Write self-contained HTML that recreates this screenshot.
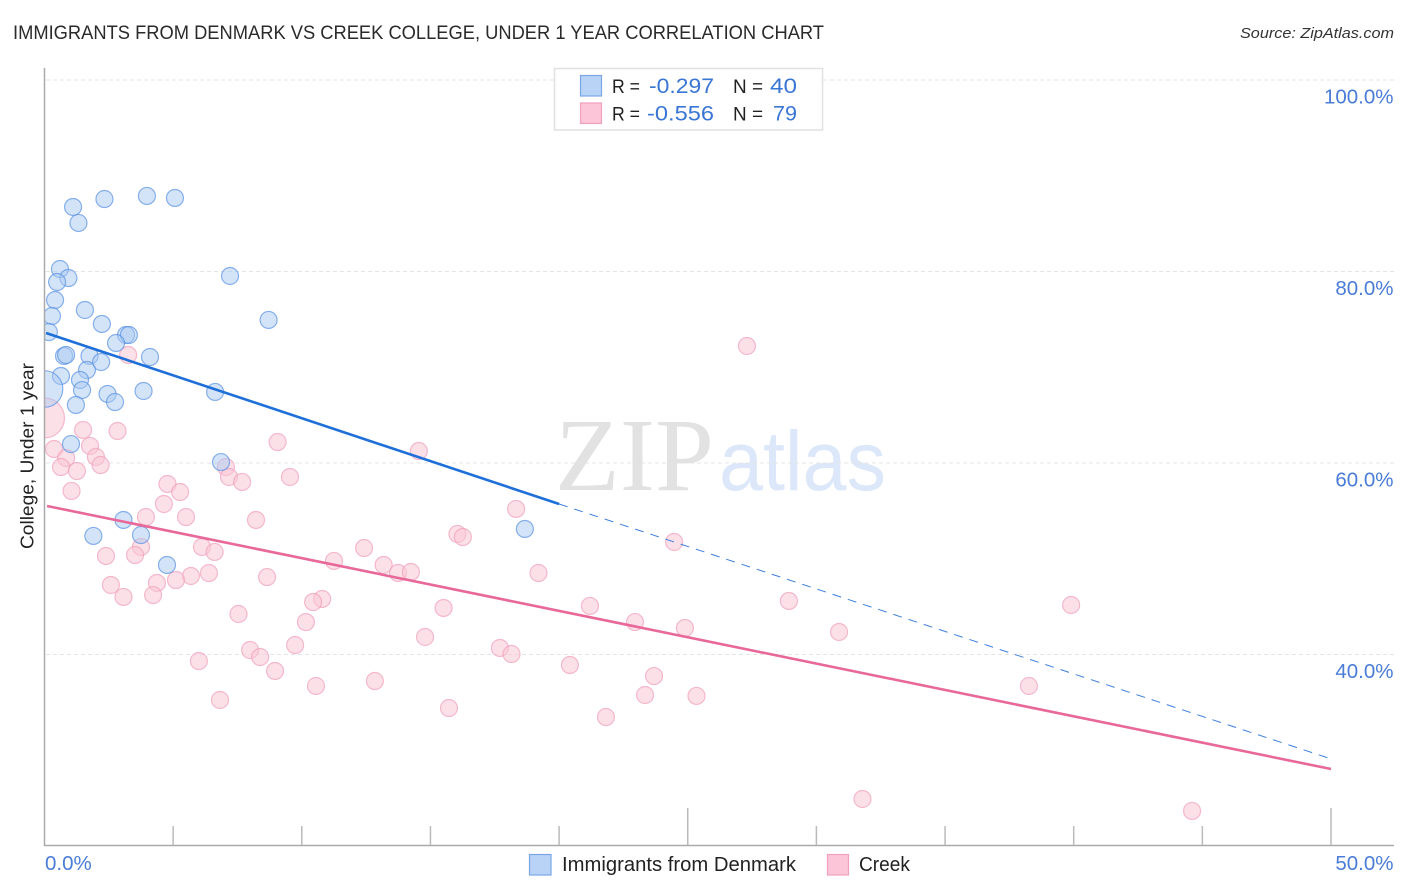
<!DOCTYPE html>
<html lang="en">
<head>
<meta charset="utf-8">
<title>Immigrants from Denmark vs Creek College, Under 1 Year Correlation Chart</title>
<style>
html,body{margin:0;padding:0;background:#fff;width:1406px;height:892px;overflow:hidden}
svg{display:block;font-family:"Liberation Sans",sans-serif}
</style>
</head>
<body>
<svg id="chart" xmlns="http://www.w3.org/2000/svg" width="1406" height="892" viewBox="0 0 1406 892">
  <rect x="0" y="0" width="1406" height="892" fill="#ffffff"/>
  <text x="13" y="39" font-size="19" fill="#2a2a2a" textLength="811" lengthAdjust="spacingAndGlyphs">IMMIGRANTS FROM DENMARK VS CREEK COLLEGE, UNDER 1 YEAR CORRELATION CHART</text>
  <text x="1394" y="38" font-size="15" font-style="italic" fill="#333" text-anchor="end" textLength="154" lengthAdjust="spacingAndGlyphs">Source: ZipAtlas.com</text>

  <g>
    <text x="555" y="490" font-family="'Liberation Serif',serif" font-size="104" fill="#e2e2e2" textLength="159" lengthAdjust="spacingAndGlyphs">ZIP</text>
    <text x="719" y="490" font-size="84" fill="#dce8f9" textLength="167" lengthAdjust="spacingAndGlyphs">atlas</text>
  </g>

  <g id="grid"></g>
  <g id="points"></g>
  <rect x="0" y="60" width="44.5" height="786" fill="#ffffff"/>
  <g id="axes"></g>
  <g id="trends"></g>
  <g id="labels"></g>

  <text transform="translate(33.5,549) rotate(-90)" font-size="18.5" fill="#222" textLength="186" lengthAdjust="spacingAndGlyphs">College, Under 1 year</text>

  <g>
    <rect x="554.5" y="68.5" width="268" height="61.5" fill="#fff" stroke="#e0e0e0" stroke-width="1.5"/>
    <rect x="580.5" y="75.5" width="21" height="20.5" fill="#b8d3f5" stroke="#7aa6e6" stroke-width="1.2"/>
    <rect x="580.5" y="103" width="21" height="20.5" fill="#fcc5d8" stroke="#f0a0bc" stroke-width="1.2"/>
    <text x="612" y="93" font-size="19.5" fill="#222" textLength="28" lengthAdjust="spacingAndGlyphs">R =</text>
    <text x="649" y="93" font-size="21" fill="#3a76d4" textLength="65" lengthAdjust="spacingAndGlyphs">-0.297</text>
    <text x="733" y="93" font-size="19.5" fill="#222" textLength="30" lengthAdjust="spacingAndGlyphs">N =</text>
    <text x="770" y="93" font-size="21" fill="#3a76d4" textLength="27" lengthAdjust="spacingAndGlyphs">40</text>
    <text x="612" y="120.5" font-size="19.5" fill="#222" textLength="28" lengthAdjust="spacingAndGlyphs">R =</text>
    <text x="647" y="120.5" font-size="21" fill="#3a76d4" textLength="67" lengthAdjust="spacingAndGlyphs">-0.556</text>
    <text x="733" y="120.5" font-size="19.5" fill="#222" textLength="30" lengthAdjust="spacingAndGlyphs">N =</text>
    <text x="773" y="120.5" font-size="21" fill="#3a76d4" textLength="24" lengthAdjust="spacingAndGlyphs">79</text>
  </g>

  <g>
    <rect x="529.5" y="854.5" width="21.5" height="20.5" fill="#b8d3f5" stroke="#7aa6e6" stroke-width="1.2"/>
    <text x="562" y="871" font-size="20" fill="#222" textLength="234" lengthAdjust="spacingAndGlyphs">Immigrants from Denmark</text>
    <rect x="827.5" y="854.5" width="21" height="20.5" fill="#fcc5d8" stroke="#f0a0bc" stroke-width="1.2"/>
    <text x="859" y="871" font-size="20" fill="#222" textLength="51" lengthAdjust="spacingAndGlyphs">Creek</text>
  </g>
</svg>
<script>
// Value arrays (x = Immigrants from Denmark %, y = College, Under 1 year %)
const blueX = [1.11,2.33,3.98,5.07,1.32,0.60,0.93,0.49,7.21,0.41,0.29,8.71,1.57,2.23,0.17,3.17,3.28,2.78,4.10,0.76,0.84,1.75,2.20,1.65,0.64,1.38,1.46,2.45,3.85,6.63,1.22,2.74,0,1.03,6.86,3.07,1.90,3.75,4.76,18.67];
const blueY = [86.74,87.57,87.89,87.68,85.07,80.26,79.32,78.90,79.53,77.02,75.35,74.94,75.98,74.52,73.68,73.37,73.37,72.53,71.07,71.18,71.28,71.18,70.55,69.71,69.09,68.67,67.62,67.21,67.52,67.42,66.06,66.37,67.73,61.98,60.10,54.05,52.38,52.48,49.35,53.11];
const blueSize = [1,1,1,1,1,1,1,1,1,1,1,1,1,1,1,1,1,1,1,1,1,1,1,1,1,1,1,1,1,1,1,1,2.15,1,1,1,1,1,1,1];

const pinkX = [0,3.25,27.30,1.50,2.84,1.77,0.37,9.06,14.55,0.84,2.00,0.64,2.18,1.26,7.05,7.17,7.68,9.54,1.05,4.78,5.27,4.64,18.33,3.94,5.50,8.22,16.05,16.26,24.47,3.75,6.12,6.61,3.52,2.39,12.42,11.25,13.18,13.74,14.24,19.20,8.65,6.39,5.69,5.11,4.37,2.58,3.07,4.22,10.79,10.44,15.51,21.20,28.93,39.90,7.54,10.16,22.95,24.89,30.88,14.79,9.74,7.99,8.38,17.70,18.15,6.00,20.42,8.96,23.69,12.84,10.55,38.26,23.34,25.34,6.82,15.72,21.82,31.79,44.60];
const pinkY = [64.70,71.28,72.22,63.45,63.34,61.78,61.46,62.19,61.25,60.52,60.63,59.58,59.79,59.16,59.58,58.54,58.02,58.54,57.08,57.81,56.97,55.72,55.20,54.36,54.36,54.05,52.59,52.27,51.75,51.23,51.23,50.71,50.39,50.29,51.12,49.77,49.35,48.51,48.62,48.51,48.09,48.51,48.20,47.78,47.47,47.26,46.01,46.21,45.80,45.48,44.86,45.07,45.59,45.17,44.23,43.39,43.39,42.77,42.35,41.83,40.99,40.47,39.74,40.68,40.05,39.32,38.90,38.28,37.75,37.23,36.71,36.71,35.77,35.67,35.25,34.41,33.47,24.91,23.66];
const pinkSize = [2.35,1,1,1,1,1,1,1,1,1,1,1,1,1,1,1,1,1,1,1,1,1,1,1,1,1,1,1,1,1,1,1,1,1,1,1,1,1,1,1,1,1,1,1,1,1,1,1,1,1,1,1,1,1,1,1,1,1,1,1,1,1,1,1,1,1,1,1,1,1,1,1,1,1,1,1,1,1,1];

const blueTrendX = [0.06,20.0,49.9];
const blueTrendY = [73.58,55.72,29.19];
const pinkTrendX = [0.1,50.0];
const pinkTrendY = [55.51,28.04];

const yTicks = [100,80,60,40];
const yTickLabels = ['100.0%','80.0%','60.0%','40.0%'];
const xTicks = [5,10,15,20,25,30,35,40,45,50];
const xMajorTicks = [25,50];
const xEndTicks = [0,50];
const xEndLabels = ['0.0%','50.0%'];

const svgNS = 'http://www.w3.org/2000/svg';
function xScale(v){ return 44.5 + v * 25.73; }
function yScale(v){ return 654.5 - (v - 40) * 9.575; }
function make(tag, attrs, parent){
  const el = document.createElementNS(svgNS, tag);
  for (const k in attrs) el.setAttribute(k, attrs[k]);
  parent.appendChild(el);
  return el;
}

const gridG = document.getElementById('grid');
const axesG = document.getElementById('axes');
const pointsG = document.getElementById('points');
const trendsG = document.getElementById('trends');
const labelsG = document.getElementById('labels');

yTicks.forEach(function(t){
  const el = make('line', {x1:46, x2:1394, y1:yScale(t), y2:yScale(t), stroke:'#e4e4e4', 'stroke-width':1, 'stroke-dasharray':'4 3'}, gridG);
  
  
});

function drawPoints(xs, ys, sizes, fill, stroke, fillOpacity, name){
  xs.forEach(function(x, i){
    const c = make('circle', {cx:xScale(x), cy:yScale(ys[i]), r:8.5 * sizes[i], fill:fill, 'fill-opacity':fillOpacity, stroke:stroke, 'stroke-opacity':0.7, 'stroke-width':1.2}, pointsG);
    
    
  });
}
drawPoints(pinkX, pinkY, pinkSize, '#f9c6d6', '#efa0ba', 0.55, 'creek-point');
drawPoints(blueX, blueY, blueSize, '#a9caf2', '#5a92e2', 0.5, 'immigrants-point');

const yAxisLine = make('line', {x1:44.5, x2:44.5, y1:68, y2:846, stroke:'#aaaaaa', 'stroke-width':1.5}, axesG);


const xAxisLine = make('line', {x1:44, x2:1394, y1:845.5, y2:845.5, stroke:'#aaaaaa', 'stroke-width':1.5}, axesG);



xTicks.forEach(function(t){
  const top = xMajorTicks.indexOf(t) >= 0 ? 808 : 826;
  const el = make('line', {x1:xScale(t), x2:xScale(t), y1:top, y2:845, stroke:'#bbbbbb', 'stroke-width':1.5}, axesG);
  
  
});

const blueDash = make('line', {x1:xScale(blueTrendX[1]), y1:yScale(blueTrendY[1]), x2:xScale(blueTrendX[2]), y2:yScale(blueTrendY[2]), stroke:'#3f7fdc', 'stroke-width':1, 'stroke-dasharray':'9 7'}, trendsG);


const blueSolid = make('line', {x1:xScale(blueTrendX[0]), y1:yScale(blueTrendY[0]), x2:xScale(blueTrendX[1]), y2:yScale(blueTrendY[1]), stroke:'#1f6fd8', 'stroke-width':2.6}, trendsG);


const pinkSolid = make('line', {x1:xScale(pinkTrendX[0]), y1:yScale(pinkTrendY[0]), x2:xScale(pinkTrendX[1]), y2:yScale(pinkTrendY[1]), stroke:'#e8689a', 'stroke-width':2.6}, trendsG);



yTickLabels.forEach(function(lab, i){
  const el = make('text', {x:1393.5, y:yScale(yTicks[i]) + 23.5, 'font-size':20.5, fill:'#4a7cd8', 'text-anchor':'end'}, labelsG);
  el.textContent = lab;
  
  
});
xEndLabels.forEach(function(lab, i){
  const isLast = i === xEndLabels.length - 1;
  const el = make('text', {x: isLast ? 1393.5 : xScale(xEndTicks[i]) + 0.5, y:870, 'font-size':20.5, fill:'#4a7cd8', 'text-anchor': isLast ? 'end' : 'start'}, labelsG);
  el.textContent = lab;
  
  
});
</script>
</body>
</html>
